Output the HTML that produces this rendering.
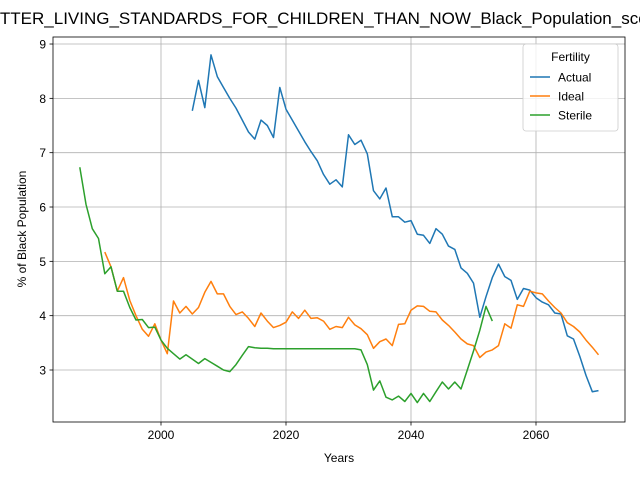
<!DOCTYPE html>
<html><head><meta charset="utf-8"><style>
body{margin:0;background:#fff}
svg{display:block;font-family:"Liberation Sans","DejaVu Sans",sans-serif}
</style></head><body>
<svg id="c" width="640" height="480"></svg>
<script>
const actualYears=[2005,2006,2007,2008,2009,2010,2011,2012,2013,2014,2015,2016,2017,2018,2019,2020,2021,2022,2023,2024,2025,2026,2027,2028,2029,2030,2031,2032,2033,2034,2035,2036,2037,2038,2039,2040,2041,2042,2043,2044,2045,2046,2047,2048,2049,2050,2051,2052,2053,2054,2055,2056,2057,2058,2059,2060,2061,2062,2063,2064,2065,2066,2067,2068,2069,2070];
const actualValues=[7.77,8.33,7.83,8.8,8.4,8.2,8.0,7.82,7.6,7.38,7.25,7.6,7.5,7.28,8.2,7.8,7.6,7.4,7.2,7.02,6.85,6.6,6.42,6.5,6.37,7.33,7.15,7.23,6.98,6.3,6.15,6.35,5.82,5.82,5.72,5.75,5.5,5.48,5.33,5.6,5.5,5.28,5.22,4.88,4.78,4.6,3.97,4.35,4.7,4.95,4.72,4.65,4.3,4.5,4.47,4.33,4.25,4.2,4.05,4.03,3.63,3.57,3.25,2.9,2.6,2.62];
const idealYears=[1991,1992,1993,1994,1995,1996,1997,1998,1999,2000,2001,2002,2003,2004,2005,2006,2007,2008,2009,2010,2011,2012,2013,2014,2015,2016,2017,2018,2019,2020,2021,2022,2023,2024,2025,2026,2027,2028,2029,2030,2031,2032,2033,2034,2035,2036,2037,2038,2039,2040,2041,2042,2043,2044,2045,2046,2047,2048,2049,2050,2051,2052,2053,2054,2055,2056,2057,2058,2059,2060,2061,2062,2063,2064,2065,2066,2067,2068,2069,2070];
const idealValues=[5.17,4.9,4.45,4.7,4.28,4.0,3.75,3.62,3.85,3.55,3.3,4.27,4.05,4.17,4.03,4.15,4.43,4.63,4.4,4.4,4.17,4.02,4.07,3.95,3.8,4.05,3.9,3.78,3.82,3.88,4.07,3.95,4.1,3.95,3.96,3.9,3.75,3.8,3.78,3.97,3.83,3.76,3.65,3.4,3.52,3.57,3.45,3.84,3.85,4.1,4.18,4.17,4.08,4.07,3.92,3.82,3.7,3.57,3.48,3.45,3.23,3.33,3.37,3.45,3.85,3.77,4.2,4.17,4.45,4.42,4.4,4.27,4.15,4.05,3.87,3.8,3.7,3.55,3.42,3.28];
const sterileYears=[1987,1988,1989,1990,1991,1992,1993,1994,1995,1996,1997,1998,1999,2000,2001,2002,2003,2004,2005,2006,2007,2008,2009,2010,2011,2012,2013,2014,2015,2016,2017,2018,2019,2020,2021,2022,2023,2024,2025,2026,2027,2028,2029,2030,2031,2032,2033,2034,2035,2036,2037,2038,2039,2040,2041,2042,2043,2044,2045,2046,2047,2048,2049,2050,2051,2052,2053];
const sterileValues=[6.73,6.05,5.6,5.42,4.77,4.9,4.45,4.45,4.15,3.92,3.93,3.78,3.79,3.55,3.4,3.3,3.2,3.28,3.2,3.12,3.21,3.14,3.07,3.0,2.97,3.1,3.27,3.43,3.41,3.4,3.4,3.39,3.39,3.39,3.39,3.39,3.39,3.39,3.39,3.39,3.39,3.39,3.39,3.39,3.39,3.37,3.1,2.63,2.8,2.5,2.45,2.52,2.42,2.57,2.4,2.57,2.42,2.6,2.78,2.65,2.78,2.65,3.0,3.35,3.73,4.17,3.9];
const xTicks=[2000,2020,2040,2060];
const yTicks=[3,4,5,6,7,8,9];
const seriesNames=["Actual","Ideal","Sterile"];
const colors=["#1f77b4","#ff7f0e","#2ca02c"];

const L=53,R=625,T=37,B=422;
const xs=y=>161+(y-2000)*6.25;
const ys=v=>370-(v-3)*54.33;
const svg=document.getElementById('c');
const NS='http://www.w3.org/2000/svg';
function mk(t,a,p){const e=document.createElementNS(NS,t);for(const k in a)e.setAttribute(k,a[k]);(p||svg).appendChild(e);return e;}

const title=mk('text',{x:320,y:24,'text-anchor':'middle','font-size':17,fill:'#000'});
title.textContent='BETTER_LIVING_STANDARDS_FOR_CHILDREN_THAN_NOW_Black_Population_score';



xTicks.forEach(t=>{const x=xs(t);
 const g=mk('line',{x1:x,x2:x,y1:T,y2:B,stroke:'#b0b0b0','stroke-width':0.8});
 
 
 mk('line',{x1:x,x2:x,y1:B,y2:B+3.5,stroke:'#000','stroke-width':0.8});
 const l=mk('text',{x:x,y:B+17,'text-anchor':'middle','font-size':12});l.textContent=t;
 
 
});
yTicks.forEach(t=>{const y=ys(t);
 const g=mk('line',{x1:L,x2:R,y1:y,y2:y,stroke:'#b0b0b0','stroke-width':0.8});
 
 
 mk('line',{x1:L-3.5,x2:L,y1:y,y2:y,stroke:'#000','stroke-width':0.8});
 const l=mk('text',{x:L-7,y:y+4.5,'text-anchor':'end','font-size':12});l.textContent=t;
 
 
});

const data=[[actualYears,actualValues],[idealYears,idealValues],[sterileYears,sterileValues]];
data.forEach((d,i)=>{
 const pts=d[0].map((y,j)=>xs(y).toFixed(1)+','+ys(d[1][j]).toFixed(1)).join(' ');
 const p=mk('polyline',{points:pts,fill:'none',stroke:colors[i],'stroke-width':1.5,'stroke-linejoin':'round'});
 
 
});

const frame=mk('rect',{x:L,y:T,width:R-L,height:B-T,fill:'none',stroke:'#000','stroke-width':0.8});



const xl=mk('text',{x:(L+R)/2,y:462,'text-anchor':'middle','font-size':12});xl.textContent='Years';


const yl=mk('text',{x:0,y:0,'text-anchor':'middle','font-size':12,transform:'translate(26,229) rotate(-90)'});yl.textContent='% of Black Population';



const lg=mk('g',{});


mk('rect',{x:523,y:44,width:95,height:87,rx:3,fill:'#fff','fill-opacity':0.8,stroke:'#ccc','stroke-width':0.8},lg);
const lt=mk('text',{x:570.5,y:61,'text-anchor':'middle','font-size':12},lg);lt.textContent='Fertility';


seriesNames.forEach((n,i)=>{const y=77+i*19;
 const e=mk('g',{},lg);
 
 
 mk('line',{x1:530,x2:550,y1:y,y2:y,stroke:colors[i],'stroke-width':1.5},e);
 const t=mk('text',{x:558,y:y+4.5,'font-size':12},e);t.textContent=n;
});
</script>
</body></html>
